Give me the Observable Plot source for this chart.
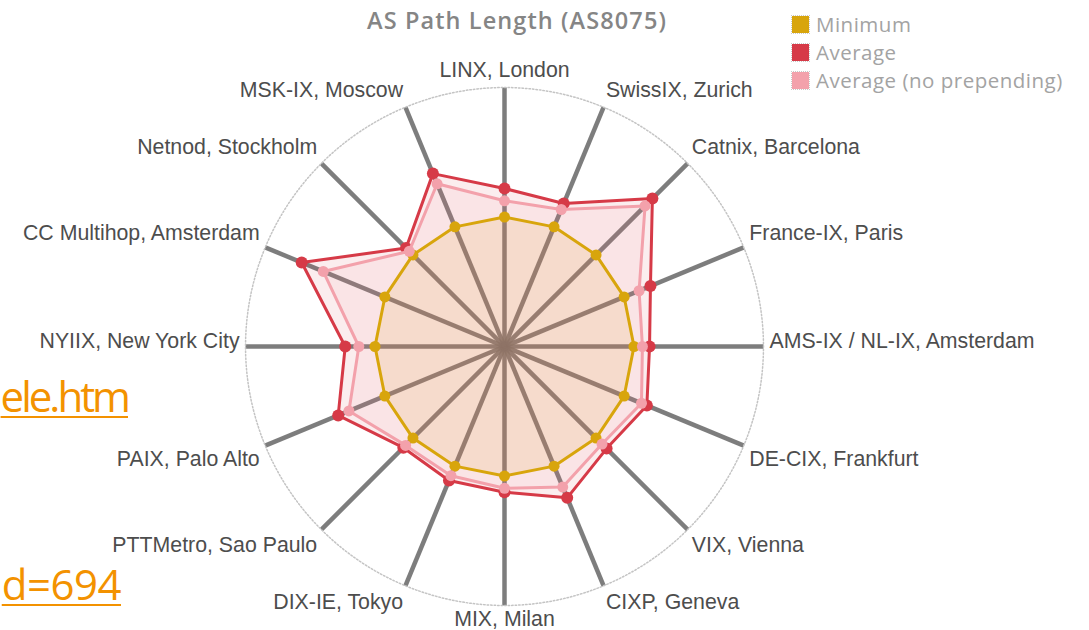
<!DOCTYPE html>
<html><head><meta charset="utf-8">
<script src="https://cdn.jsdelivr.net/npm/d3@7"></script>
<script src="https://cdn.jsdelivr.net/npm/@observablehq/plot@0.6"></script>
<style>
body{margin:0;background:#fff;}
#wrap{position:relative;width:1089px;height:630px;overflow:hidden;background:#fff;}
#wrap svg{position:absolute;left:0;top:0;}
#title{position:absolute;left:0;width:1034px;top:5px;text-align:center;font-family:"Open Sans",sans-serif;font-weight:600;font-size:23.5px;letter-spacing:1.1px;color:#858585;line-height:30px;}
.leg{position:absolute;left:792px;height:28px;display:flex;align-items:center;font-family:"Open Sans",sans-serif;font-size:20.5px;letter-spacing:0.5px;color:#a3a3a3;}
.leg span.sw{display:inline-block;width:17px;height:17px;margin-right:7px;outline:1px dotted #c9c9c9;}
.frag{position:absolute;font-family:"Open Sans",sans-serif;font-size:42px;color:#f39200;text-decoration:underline;text-decoration-thickness:2px;text-underline-offset:4px;white-space:nowrap;line-height:50px;}
</style></head><body><div id="wrap">
<div id="title"></div>
<div id="legend"></div>
<div class="frag" id="frag1" style="right:961px;top:371px;letter-spacing:-3px;"></div>
<div class="frag" id="frag2" style="right:968px;top:559px;letter-spacing:-0.5px;"></div>
</div>
<script>
const titleText = "AS Path Length (AS8075)";
const fragments = ["ele.htm", "d=694"];
const categories = ["LINX, London","SwissIX, Zurich","Catnix, Barcelona","France-IX, Paris","AMS-IX / NL-IX, Amsterdam","DE-CIX, Frankfurt","VIX, Vienna","CIXP, Geneva","MIX, Milan","DIX-IE, Tokyo","PTTMetro, Sao Paulo","PAIX, Palo Alto","NYIIX, New York City","CC Multihop, Amsterdam","Netnod, Stockholm","MSK-IX, Moscow"];
const minimum = [2,2,2,2,2,2,2,2,2,2,2,2,2,2,2,2];
const average = [2.44,2.39,3.23,2.44,2.24,2.38,2.23,2.53,2.25,2.24,2.21,2.78,2.46,3.39,2.15,2.89];
const averageNoPrepending = [2.25,2.29,3.07,2.25,2.13,2.29,2.13,2.35,2.19,2.16,2.16,2.60,2.25,3.03,2.08,2.72];
const seriesNames = ["Minimum","Average","Average (no prepending)"];
const seriesColors = ["#d8a50c","#d63a47","#f3a1ab"];
const seriesFillOpacity = [0.13, 0.09, 0.1];
const radialMax = 4;

document.getElementById("title").textContent = titleText;
document.getElementById("frag1").textContent = fragments[0];
document.getElementById("frag2").textContent = fragments[1];
const legend = document.getElementById("legend");
seriesNames.forEach((name, k) => {
  const d = document.createElement("div");
  d.className = "leg";
  d.style.top = (10 + k * 28) + "px";
  d.innerHTML = `<span class="sw" style="background:${seriesColors[k]}"></span>`;
  d.appendChild(document.createTextNode(name));
  legend.appendChild(d);
});

const n = categories.length;
const angle = i => (i * 2 * Math.PI) / n;
const seriesValues = [minimum, average, averageNoPrepending];
const pts = seriesValues.map((vals, k) => vals.map((v, i) => ({
  series: seriesNames[k], cat: categories[i],
  x: v * Math.sin(angle(i)), y: v * Math.cos(angle(i))
})));
const spokes = categories.map((c, i) => ({x2: radialMax * Math.sin(angle(i)), y2: radialMax * Math.cos(angle(i))}));
const circle = d3.range(0, 360, 2).map(a => ({x: radialMax * Math.sin(a * Math.PI / 180), y: radialMax * Math.cos(a * Math.PI / 180)}));
const labelR = radialMax * 1.023;
const labels = categories.map((c, i) => {
  const s = Math.sin(angle(i)), co = Math.cos(angle(i));
  const anchor = Math.abs(s) < 0.1 ? "middle" : s > 0 ? "start" : "end";
  const dy = Math.abs(s) < 0.1 ? (co > 0 ? -11 : 8) : co > 0.1 ? -12 : co < -0.1 ? 11 : -5;
  return {text: c, x: labelR * s, y: labelR * co, anchor, dy, key: anchor + dy};
});
const labelGroups = d3.groups(labels, d => d.key);

const marks = [
  Plot.link(spokes, {x1: () => 0, y1: () => 0, x2: "x2", y2: "y2", stroke: "#6f6f6f", strokeWidth: 4.5, strokeOpacity: 0.9}),
  Plot.line(circle, {x: "x", y: "y", curve: "linear-closed", stroke: "#c4c4c4", strokeWidth: 1.5, strokeDasharray: "1.5,2"}),
];
pts.forEach((p, k) => {
  marks.push(Plot.line(p, {x: "x", y: "y", curve: "linear-closed", fill: seriesColors[k], fillOpacity: seriesFillOpacity[k], stroke: "none"}));
});
pts.forEach((p, k) => {
  marks.push(Plot.line(p, {x: "x", y: "y", curve: "linear-closed", stroke: seriesColors[k], strokeWidth: 3}));
  marks.push(Plot.dot(p, {x: "x", y: "y", r: k === 1 ? 6 : 5.5, fill: seriesColors[k], stroke: "none"}));
});
labelGroups.forEach(([key, arr]) => {
  marks.push(Plot.text(arr, {x: "x", y: "y", text: "text", textAnchor: arr[0].anchor, dy: arr[0].dy, fill: "#4d4d4d", fontSize: 21.3, fontFamily: "Liberation Sans, Arial, sans-serif"}));
});

const chart = Plot.plot({
  width: 1089, height: 630,
  margin: 0,
  x: {domain: [-radialMax, radialMax], range: [245, 763], axis: null},
  y: {domain: [-radialMax, radialMax], range: [605, 87], axis: null},
  style: {background: "transparent", overflow: "visible"},
  marks
});
document.getElementById("wrap").insertBefore(chart, document.getElementById("title"));
</script></body></html>
